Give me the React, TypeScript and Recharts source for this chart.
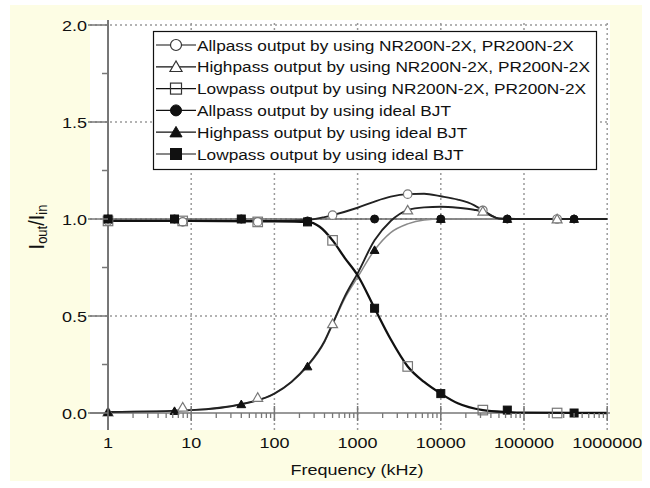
import React from 'react';
import { ComposedChart, Line, Scatter, XAxis, YAxis, ReferenceLine } from 'recharts';

// ---------- data (frequency in kHz, value = Iout/Iin) ----------
// smooth curves
const lowpassCurveF = [1, 10, 100, 250, 350, 500, 700, 1000, 1600, 2500, 4000, 6300, 10000, 16000, 32000, 63000, 100000, 1000000];
const lowpassCurveV = [0.99, 0.99, 0.988, 0.985, 0.96, 0.89, 0.8, 0.71, 0.54, 0.38, 0.24, 0.16, 0.1, 0.05, 0.015, 0.005, 0.002, 0];

const highpassNRCurveF = [1, 10, 40, 100, 160, 250, 400, 500, 700, 1000, 1600, 2500, 4000, 6300, 10000, 16000, 25000, 32000, 40000, 50000, 100000, 1000000];
const highpassNRCurveV = [0.005, 0.015, 0.045, 0.1, 0.16, 0.245, 0.37, 0.46, 0.6, 0.72, 0.89, 0.99, 1.046, 1.06, 1.063, 1.058, 1.048, 1.038, 1.018, 1.002, 1.0, 1.0];

const highpassIdealCurveF = [1, 10, 40, 100, 160, 250, 400, 500, 700, 1000, 1600, 2500, 4000, 6300, 10000, 1000000];
const highpassIdealCurveV = [0.005, 0.015, 0.045, 0.1, 0.16, 0.24, 0.365, 0.455, 0.59, 0.7, 0.84, 0.93, 0.975, 0.995, 1.0, 1.0];

const allpassNRCurveF = [1, 10, 100, 250, 400, 500, 1000, 1600, 2500, 4000, 6300, 10000, 16000, 25000, 32000, 40000, 50000, 100000, 1000000];
const allpassNRCurveV = [0.99, 0.99, 0.99, 0.995, 1.01, 1.02, 1.058, 1.09, 1.115, 1.128, 1.13, 1.117, 1.1, 1.072, 1.045, 1.02, 1.003, 1.0, 1.0];

const allpassIdealCurveF = [1, 1000000];
const allpassIdealCurveV = [1.0, 1.0];

// markers (NR200N-2X, PR200N-2X simulation)
const nrMarkerF = [1, 7.9, 63, 500, 4000, 32000, 250000];
const allpassNRMarkV = [0.99, 0.985, 0.985, 1.02, 1.128, 1.045, 1.0];
const highpassNRMarkV = [0.005, 0.03, 0.08, 0.46, 1.046, 1.04, 1.0];
const lowpassNRMarkV = [0.99, 0.99, 0.985, 0.89, 0.24, 0.015, 0.0];

// markers (ideal BJT)
const idealMarkerF = [1, 6.3, 40, 250, 1600, 10000, 63000, 400000];
const allpassIdealMarkV = [1.0, 1.0, 1.0, 0.99, 1.0, 1.0, 1.0, 1.0];
const highpassIdealMarkV = [0.005, 0.01, 0.045, 0.24, 0.84, 1.0, 1.0, 1.0];
const lowpassIdealMarkV = [1.0, 1.0, 1.0, 0.985, 0.54, 0.1, 0.015, 0.0];

// axes
const xMajorTicks = [1, 10, 100, 1000, 10000, 100000, 1000000];
const xGridLines = [10, 100, 1000, 10000, 100000, 1000000];
const yTicks = [0, 0.25, 0.5, 0.75, 1.0, 1.25, 1.5, 1.75, 2.0];
const yGridLines = [0.5, 1.0, 1.5, 2.0];

const legendLabels = [
  'Allpass output by using NR200N-2X, PR200N-2X',
  'Highpass output by using NR200N-2X, PR200N-2X',
  'Lowpass output by using NR200N-2X, PR200N-2X',
  'Allpass output by using ideal BJT',
  'Highpass output by using ideal BJT',
  'Lowpass output by using ideal BJT',
];

// ---------- helpers ----------
const zip = (f: number[], v: number[]) => f.map((x, i) => ({ f: x, v: v[i] }));
const xMinorTicks: number[] = [];
for (let d = 0; d < 6; d++) for (let m = 1; m <= 9; m++) xMinorTicks.push(m * Math.pow(10, d));
xMinorTicks.push(1000000);

const FONT = '"Liberation Sans", Arial, sans-serif';
const SX = 1.2; // horizontal stretch of the original figure's text

type Sym = 'openCircle' | 'openTriangle' | 'openSquare' | 'circle' | 'triangle' | 'square';

const drawSymbol = (kind: Sym, cx: number, cy: number, s: number, stroke: string) => {
  const r = s / 2;
  switch (kind) {
    case 'openCircle':
      return <circle cx={cx} cy={cy} r={r} fill="#fff" stroke={stroke} strokeWidth={1.2} />;
    case 'circle':
      return <circle cx={cx} cy={cy} r={r} fill="#111" stroke="#111" strokeWidth={1} />;
    case 'openTriangle':
      return (
        <polygon
          points={`${cx},${cy - r * 1.05} ${cx - r * 1.1},${cy + r * 0.85} ${cx + r * 1.1},${cy + r * 0.85}`}
          fill="#fff"
          stroke={stroke}
          strokeWidth={1.2}
        />
      );
    case 'triangle':
      return (
        <polygon
          points={`${cx},${cy - r * 1.05} ${cx - r * 1.1},${cy + r * 0.85} ${cx + r * 1.1},${cy + r * 0.85}`}
          fill="#111"
          stroke="#111"
          strokeWidth={1}
        />
      );
    case 'openSquare':
      return <rect x={cx - r} y={cy - r} width={s} height={s} fill="none" stroke={stroke} strokeWidth={1.2} />;
    case 'square':
    default:
      return <rect x={cx - r} y={cy - r} width={s} height={s} fill="#111" stroke="#111" strokeWidth={1} />;
  }
};

const markerShape = (kind: Sym, s: number) => (p: any) => {
  if (p == null || p.cx == null || p.cy == null) return <g />;
  return drawSymbol(kind, p.cx, p.cy, s, '#777');
};

const YTick = (props: any) => {
  const { x, y, payload } = props;
  const v = payload.value as number;
  const major = Math.abs(v * 2 - Math.round(v * 2)) < 1e-6;
  if (!major) {
    return <line x1={x + 12} x2={x + 18} y1={y} y2={y} stroke="#777" strokeWidth={1.5} />;
  }
  return (
    <g>
      <line x1={x - 2} x2={x + 18} y1={y} y2={y} stroke="#777" strokeWidth={1.5} />
      <g transform={`translate(${x - 3},${y + 5.5}) scale(${SX},1)`}>
        <text x={0} y={0} textAnchor="end" fontSize={15} fontFamily={FONT} fill="#111">
          {v.toFixed(1)}
        </text>
      </g>
    </g>
  );
};

const XTick = (props: any) => {
  const { x, y, payload } = props;
  const v = payload.value as number;
  const major = xMajorTicks.indexOf(v) >= 0;
  const y0 = y - 17; // position of value 0 on the y axis
  if (!major) {
    return <line x1={x} x2={x} y1={y0} y2={y0 + 5} stroke="#777" strokeWidth={1.3} />;
  }
  return (
    <g>
      <line x1={x} x2={x} y1={y0 - 7} y2={y0 + 8} stroke="#777" strokeWidth={1.5} />
      <g transform={`translate(${x},${y + 18}) scale(${SX},1)`}>
        <text x={0} y={0} textAnchor="middle" fontSize={15} fontFamily={FONT} fill="#111">
          {String(v)}
        </text>
      </g>
    </g>
  );
};

const legendSyms: Sym[] = ['openCircle', 'openTriangle', 'openSquare', 'circle', 'triangle', 'square'];

export default function App() {
  return (
    <div style={{ position: 'absolute', left: 0, top: 0, width: 650, height: 488, background: '#fff' }}>
      <div style={{ position: 'absolute', left: 10, top: 5, width: 632, height: 476, background: '#FDFDE4' }} />
      <div style={{ position: 'absolute', left: 90, top: 20, width: 520, height: 410, background: '#fff' }} />
      <div style={{ position: 'absolute', left: 0, top: 0 }}>
        <ComposedChart width={650} height={488} margin={{ top: 20, right: 40, bottom: 0, left: 0 }}>
          <XAxis
            dataKey="f"
            type="number"
            scale="log"
            domain={[0.6075, 1080700]}
            allowDataOverflow
            ticks={xMinorTicks}
            interval={0}
            tick={<XTick />}
            tickLine={false}
            axisLine={false}
            tickSize={0}
            tickMargin={0}
            height={58}
          />
          <YAxis
            dataKey="v"
            type="number"
            domain={[-0.0876, 2.0258]}
            allowDataOverflow
            ticks={yTicks}
            interval={0}
            tick={<YTick />}
            tickLine={false}
            axisLine={false}
            tickSize={0}
            tickMargin={0}
            width={90}
          />
          {xGridLines.map((g) => (
            <ReferenceLine key={'gx' + g} x={g} stroke="#9a9a9a" strokeWidth={1.5} strokeDasharray="2 3" />
          ))}
          {yGridLines.map((g) => (
            <ReferenceLine key={'gy' + g} y={g} stroke="#9a9a9a" strokeWidth={1.5} strokeDasharray="2 3" />
          ))}
          <ReferenceLine x={1} stroke="#555" strokeWidth={1.6} />
          <ReferenceLine y={0} stroke="#777" strokeWidth={1.6} />

          <Line data={zip(allpassIdealCurveF, allpassIdealCurveV)} dataKey="v" type="monotone" stroke="#666" strokeWidth={1.6} dot={false} activeDot={false} isAnimationActive={false} />
          <Line data={zip(highpassIdealCurveF, highpassIdealCurveV)} dataKey="v" type="monotone" stroke="#8a8a8a" strokeWidth={1.5} dot={false} activeDot={false} isAnimationActive={false} />
          <Line data={zip(highpassNRCurveF, highpassNRCurveV)} dataKey="v" type="monotone" stroke="#222" strokeWidth={1.9} dot={false} activeDot={false} isAnimationActive={false} />
          <Line data={zip(allpassNRCurveF, allpassNRCurveV)} dataKey="v" type="monotone" stroke="#222" strokeWidth={1.9} dot={false} activeDot={false} isAnimationActive={false} />
          <Line data={zip(lowpassCurveF, lowpassCurveV)} dataKey="v" type="monotone" stroke="#111" strokeWidth={2.3} dot={false} activeDot={false} isAnimationActive={false} />

          <Scatter data={zip(nrMarkerF, allpassNRMarkV)} dataKey="v" shape={markerShape('openCircle', 8.5)} isAnimationActive={false} />
          <Scatter data={zip(nrMarkerF, highpassNRMarkV)} dataKey="v" shape={markerShape('openTriangle', 9)} isAnimationActive={false} />
          <Scatter data={zip(nrMarkerF, lowpassNRMarkV)} dataKey="v" shape={markerShape('openSquare', 9.5)} isAnimationActive={false} />
          <Scatter data={zip(idealMarkerF, allpassIdealMarkV)} dataKey="v" shape={markerShape('circle', 8)} isAnimationActive={false} />
          <Scatter data={zip(idealMarkerF, highpassIdealMarkV)} dataKey="v" shape={markerShape('triangle', 8)} isAnimationActive={false} />
          <Scatter data={zip(idealMarkerF, lowpassIdealMarkV)} dataKey="v" shape={markerShape('square', 8)} isAnimationActive={false} />
        </ComposedChart>
      </div>
      <svg width={650} height={488} style={{ position: 'absolute', left: 0, top: 0, pointerEvents: 'none' }}>
        <g transform={`translate(357,475) scale(${SX},1)`}>
          <text x={0} y={0} textAnchor="middle" fontSize={15} fontFamily={FONT} fill="#111">
            Frequency (kHz)
          </text>
        </g>
        <g transform={`translate(38,227) scale(1.1,1) rotate(-90)`}>
          <text x={0} y={0} textAnchor="middle" fontSize={20} fontFamily={FONT} fill="#111" dominantBaseline="middle">
            I<tspan fontSize={13} dy={4}>out</tspan>
            <tspan dy={-4}>/I</tspan>
            <tspan fontSize={13} dy={4}>in</tspan>
          </text>
        </g>
        <rect x={153.5} y={31.5} width={443} height={138} fill="#fff" stroke="#111" strokeWidth={1.2} />
        {legendLabels.map((lab, i) => {
          const cy = 45 + i * 21.8;
          return (
            <g key={lab}>
              <line x1={156} x2={196} y1={cy} y2={cy} stroke="#111" strokeWidth={1.2} />
              {drawSymbol(legendSyms[i], 176, cy, 11, '#333')}
              <g transform={`translate(197,${cy + 5.5}) scale(1.15,1)`}>
                <text x={0} y={0} fontSize={15} fontFamily={FONT} fill="#111">
                  {lab}
                </text>
              </g>
            </g>
          );
        })}
      </svg>
    </div>
  );
}
